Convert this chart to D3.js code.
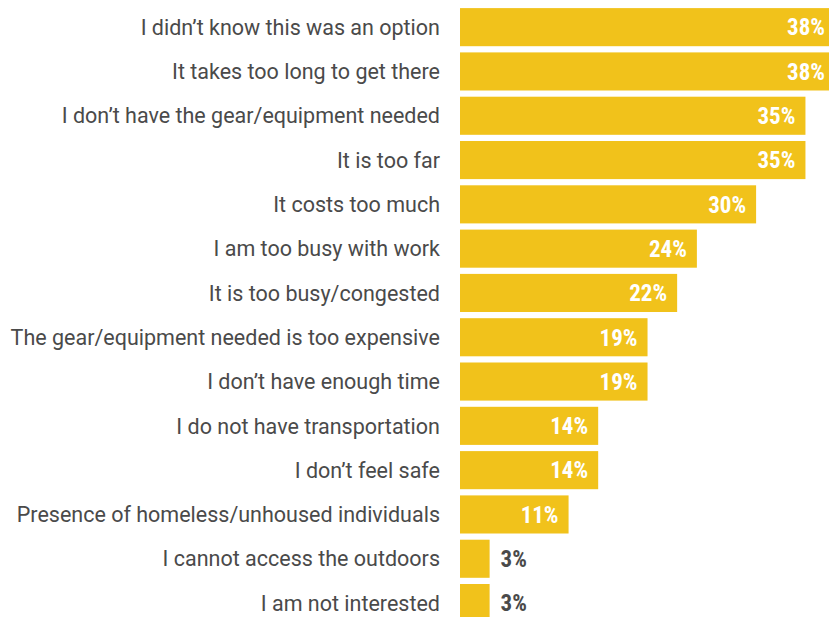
<!DOCTYPE html>
<html><head><meta charset="utf-8">
<script src="https://cdn.jsdelivr.net/npm/d3@7"></script>
<style>body{margin:0;background:#fff}svg{display:block}</style>
</head><body>
<script>
const categories = [
  "I didn’t know this was an option",
  "It takes too long to get there",
  "I don’t have the gear/equipment needed",
  "It is too far",
  "It costs too much",
  "I am too busy with work",
  "It is too busy/congested",
  "The gear/equipment needed is too expensive",
  "I don’t have enough time",
  "I do not have transportation",
  "I don’t feel safe",
  "Presence of homeless/unhoused individuals",
  "I cannot access the outdoors",
  "I am not interested"
];
const values = [38, 38, 35, 35, 30, 24, 22, 19, 19, 14, 14, 11, 3, 3];
const valueLabels = values.map(v => v + "%");

const W = 829, H = 617;
const svg = d3.select("body").append("svg").attr("width", W).attr("height", H);
const x0 = 460;
const x = d3.scaleLinear().domain([0, 10]).range([x0, x0 + 98.7]);
const y = d3.scaleBand().domain(categories).range([5, 5 + 44.3 * 14]).paddingInner(0.14).paddingOuter(0.07);

const condensed = "'Liberation Sans Narrow', 'Roboto Condensed', 'Arial Narrow', Roboto, sans-serif";
const labelFont = "Roboto, 'Liberation Sans', sans-serif";

const g = svg.append("g");
g.selectAll("rect").data(categories).join("rect")
  .attr("x", x(0)).attr("y", d => y(d))
  .attr("width", (d, i) => x(values[i]) - x(0))
  .attr("height", y.bandwidth())
  .attr("fill", "#f1c21b");

g.selectAll("text.cat").data(categories).join("text")
  .attr("class", "cat")
  .attr("x", 440).attr("y", d => y(d) + y.bandwidth() / 2)
  .attr("dy", "0.36em").attr("text-anchor", "end")
  .attr("font-family", labelFont).attr("font-size", 21.5).attr("fill", "#4a4a4a")
  .text(d => d);

g.selectAll("text.val").data(categories).join("text")
  .attr("class", "val")
  .attr("x", (d, i) => values[i] >= 10 ? x(values[i]) - 10 : x(values[i]) + 11)
  .attr("y", d => y(d) + y.bandwidth() / 2)
  .attr("dy", "0.36em")
  .attr("text-anchor", (d, i) => values[i] >= 10 ? "end" : "start")
  .attr("font-family", condensed).attr("font-weight", "bold").attr("font-size", 23)
  .attr("fill", (d, i) => values[i] >= 10 ? "#ffffff" : "#4a4a4a")
  .text((d, i) => valueLabels[i]);
</script>
</body></html>
